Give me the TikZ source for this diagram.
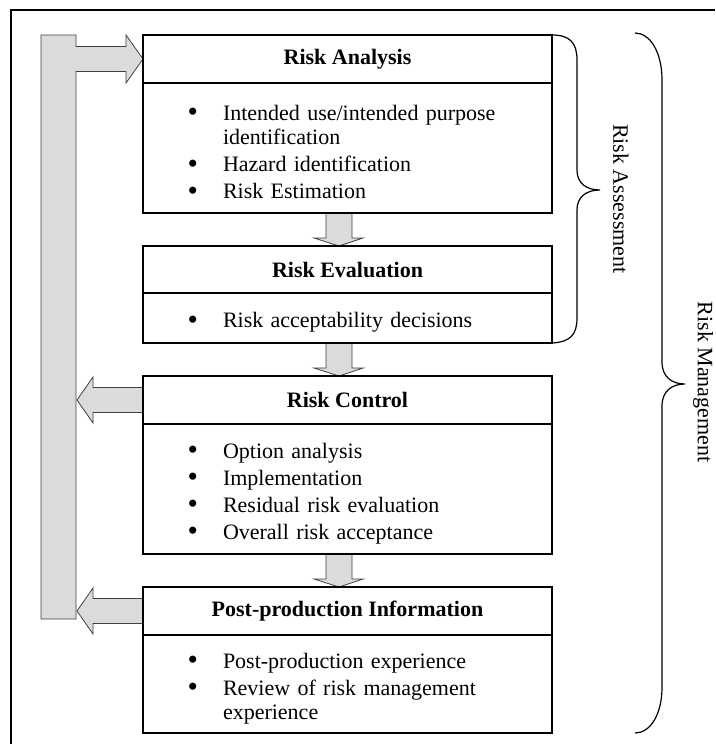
\documentclass[tikz,border=0pt]{standalone}
\usepackage{fontspec}
\setmainfont{Liberation Serif}
\usetikzlibrary{calc,backgrounds}

% bullet list used inside the boxes
\newenvironment{risklist}{%
  \begin{list}{\raisebox{-0.06em}{\scalebox{1.35}{\textbullet}}}{%
    \setlength{\leftmargin}{80pt}\setlength{\labelsep}{25pt}%
    \setlength{\labelwidth}{20pt}\setlength{\itemsep}{2.5pt}%
    \setlength{\parsep}{0pt}\setlength{\topsep}{0pt}\setlength{\partopsep}{0pt}}}%
  {\end{list}}

% fat arrow from the bottom of #1 down to the top of #2
\newcommand{\fatdown}[2]{%
  \filldraw[fatarrow] ($(#1.south)+(-21.5,0)$) -- ($(#2.north)+(-21.5,-8)$) -- ++(-12,0)
    -- ($(#2.north)+(-8.5,0)$) -- ++(24,-8) -- ++(-11,0) -- ($(#1.south)+(4.5,0)$) -- cycle;}

% fat arrow from the left side of #1 back to the feedback bar
\newcommand{\fatleft}[1]{%
  \filldraw[fatarrow] ($(#1.west)+(0,-12.5)$) -- ++(-50,0) -- ++(0,-10.5)
    -- ($(#1.west)+(-66,0)$) -- ++(16,23) -- ++(0,-10.5) -- ($(#1.west)+(0,12.5)$) -- cycle;}

\begin{document}
\begin{tikzpicture}[
    x=1pt, y=-1pt,
    font=\fontsize{22}{24.5}\selectfont,
    head/.style={draw, line width=1.5pt, anchor=north west, minimum width=409pt,
        inner sep=0pt, outer sep=0pt, font=\fontsize{22}{24.5}\selectfont\bfseries},
    body/.style={draw, line width=1.5pt, anchor=north west, text width=409pt,
        inner sep=0pt, outer sep=0pt, align=left},
    fatarrow/.style={draw=black!75, line width=0.8pt, fill=black!14, line join=miter},
    curly/.style={line width=1.2pt}
]
\useasboundingbox (0,0) rectangle (715,744);

% outer frame
\draw[line width=2.2pt] (11,744) -- (11,10) -- (715,10);

% Boxes
\node[head, minimum height=48pt] (ra) at (143,35) {Risk Analysis};
\node[body, minimum height=130pt] (rab) at (143,83) {%
  \begin{risklist}
    \item Intended use/intended purpose identification
    \item Hazard identification
    \item Risk Estimation
  \end{risklist}};

\node[head, minimum height=47pt] (re) at (143,246) {Risk Evaluation};
\node[body, minimum height=50pt] (reb) at (143,293) {%
  \begin{risklist}
    \item Risk acceptability decisions
  \end{risklist}};

\node[head, minimum height=48pt] (rc) at (143,376) {Risk Control};
\node[body, minimum height=130pt] (rcb) at (143,424) {%
  \begin{risklist}
    \item Option analysis
    \item Implementation
    \item Residual risk evaluation
    \item Overall risk acceptance
  \end{risklist}};

\node[head, minimum height=48pt] (pp) at (143,587) {Post-production Information};
\node[body, minimum height=98pt] (ppb) at (143,635) {%
  \begin{risklist}
    \item Post-production experience
    \item Review of risk management experience
  \end{risklist}};

% Arrows behind the boxes
\coordinate (bartop) at (41,35);
\coordinate (barbot) at (41,619);
\begin{pgfonlayer}{background}
  % feedback bar with arrow into Risk Analysis
  \filldraw[fatarrow] (bartop) -- ++(35,0) |- ($(ra.west)+(-17,-12.5)$) -- ++(0,-11.5)
    -- (ra.west) -- ++(-17,24) -- ++(0,-11.5) -- ++(-50,0) |- (barbot) -- cycle;
  \fatleft{rc}
  \fatleft{pp}
  \fatdown{rab}{re}
  \fatdown{reb}{rc}
  \fatdown{rcb}{pp}
\end{pgfonlayer}

% Braces
\draw[curly] (ra.north east) .. controls (570,35) and (577,43) .. (577,60) -- (577,170)
  .. controls (577,183) and (586,190) .. (600,190)
  .. controls (586,190) and (577,197) .. (577,210) -- (577,318)
  .. controls (577,335) and (570,342) .. (reb.south east);
\draw[curly] (635,33) .. controls (650,33) and (662,52) .. (662,80) -- (662,362)
  .. controls (662,377) and (672,384) .. (685,384)
  .. controls (672,384) and (662,391) .. (662,406) -- (662,687)
  .. controls (662,715) and (650,733) .. (635,733);

\node[rotate=-90] (assess) at (621,199) {Risk Assessment};
\node[rotate=-90] (mgmt) at (703,382) {Risk Management};

\end{tikzpicture}
\end{document}
